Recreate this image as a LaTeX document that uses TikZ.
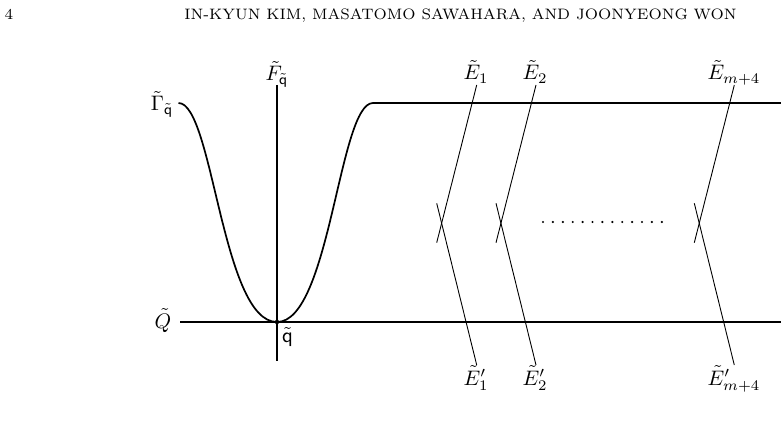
\documentclass[tikz,border=0pt]{standalone}
\usepackage{amsmath}
\newcommand{\lbltxt}[1]{\scalebox{2.1}{#1}}
\newcommand{\hdrtxt}[1]{\scalebox{2.16}{\scriptsize #1}}
\begin{document}
\begin{tikzpicture}[x=1pt,y=-1pt,
  lbl/.style={inner sep=0pt,anchor=base},
  hdr/.style={inner sep=0pt,anchor=base},
  curveline/.style={line width=1.7pt},
  baseline/.style={line width=2.6pt},
  fibre/.style={line width=1.4pt},
  eline/.style={line width=0.9pt}]
\useasboundingbox (0,0) rectangle (781,435);
% header
\node[hdr] (pg) at (9,20) {\hdrtxt{4}};
\node[hdr] (run) at (460.5,20) {\hdrtxt{IN-KYUN KIM, MASATOMO SAWAHARA, AND JOONYEONG WON}};
% labels
\node[lbl] (G) at (162,111) {\lbltxt{$\tilde{\Gamma}_{\tilde{\mathsf{q}}}$}};
\node[lbl] (F) at (277,81) {\lbltxt{$\tilde{F}_{\tilde{\mathsf{q}}}$}};
\node[lbl] (Q) at (163,328) {\lbltxt{$\tilde{Q}$}};
\node[lbl] (q) at (287.5,342) {\lbltxt{$\tilde{\mathsf{q}}$}};
\node[lbl] (E1) at (476,80) {\lbltxt{$\tilde{E}_1$}};
\node[lbl] (E2) at (535,80) {\lbltxt{$\tilde{E}_2$}};
\node[lbl] (Em) at (734,80) {\lbltxt{$\tilde{E}_{m+4}$}};
\node[lbl] (E1p) at (476,385) {\lbltxt{$\tilde{E}'_1$}};
\node[lbl] (E2p) at (535,385) {\lbltxt{$\tilde{E}'_2$}};
\node[lbl] (Emp) at (734,385) {\lbltxt{$\tilde{E}'_{m+4}$}};
% coordinates
\coordinate (gs) at (178.5,103);
\coordinate (p) at (277,322);
\coordinate (ge) at (373,103);
\coordinate (gr) at (781,103);
\coordinate (ql) at (180,322);
\coordinate (qr) at (781,322);
\coordinate (ft) at (277,85);
\coordinate (fb) at (277,361);
% curve Gamma
\draw[curveline] (gs) .. controls (213,103) and (222,322) .. (p)
  .. controls (330,322) and (339,103) .. (ge) -- (gr);
% Q line
\draw[baseline] (ql) -- (qr);
% fibre F
\draw[fibre] (ft) -- (fb);
\fill (p) circle (2.2);
% exceptional curves
\foreach \n/\x in {a/436.7,b/496,c/694.3}{
  \coordinate (\n t) at (\x+40,85);
  \coordinate (\n m) at (\x,242.7);
  \coordinate (\n u) at (\x,203.3);
  \coordinate (\n b) at (\x+40,365);
  \draw[eline] (\n t) -- (\n m);
  \draw[eline] (\n u) -- (\n b);
}
% dots
\foreach \i in {0,...,12}{
  \fill (543+\i*9.9,222) circle (1.2);
}
\end{tikzpicture}
\end{document}
